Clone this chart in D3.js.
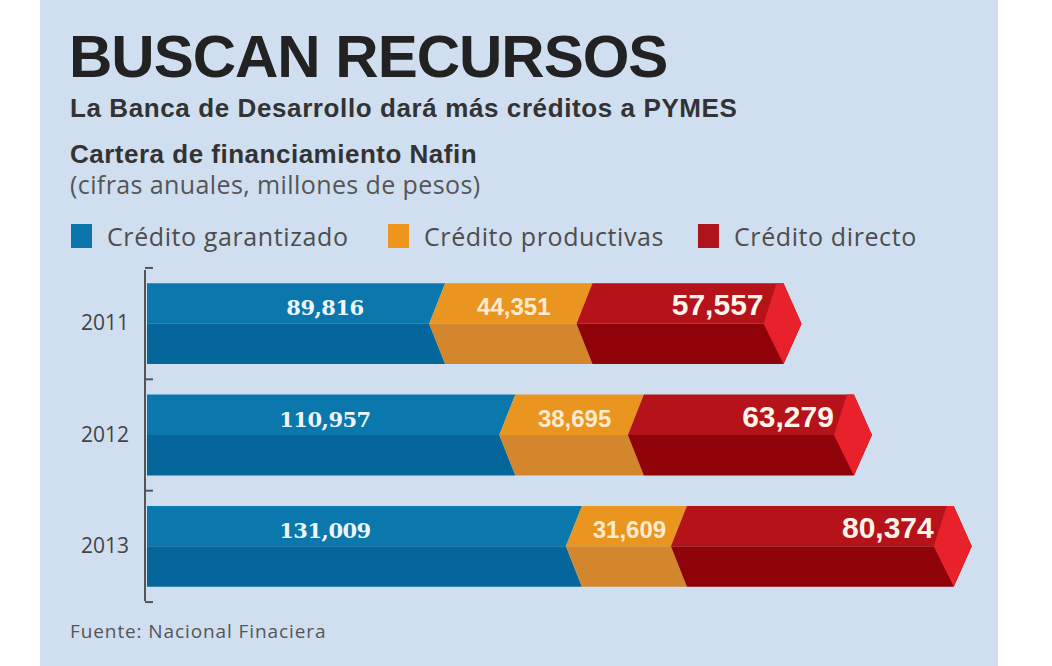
<!DOCTYPE html>
<html>
<head>
<meta charset="utf-8">
<script src="https://cdn.jsdelivr.net/npm/d3@7"></script>
<style>
  html, body { margin: 0; padding: 0; background: #ffffff; }
  svg { display: block; }
</style>
</head>
<body>
<svg id="chart" width="1052" height="666"></svg>
<script>
// ---- data ----
const years = ["2011", "2012", "2013"];
const seriesNames = ["Crédito garantizado", "Crédito productivas", "Crédito directo"];
const garantizado = [89816, 110957, 131009];
const productivas = [44351, 38695, 31609];
const directo = [57557, 63279, 80374];

const title = "BUSCAN RECURSOS";
const subtitle = "La Banca de Desarrollo dará más créditos a PYMES";
const chartTitle = "Cartera de financiamiento Nafin";
const chartUnits = "(cifras anuales, millones de pesos)";
const source = "Fuente: Nacional Finaciera";

// ---- styles ----
const topColors = ["#0a78ad", "#ea951f", "#b5121a"];
const botColors = ["#04669a", "#d3862b", "#900309"];
const legendColors = ["#0b76ab", "#f0961e", "#b0141b"];
const facetColor = "#e8212b";

const svg = d3.select("#chart");

// panel
svg.append("rect").attr("x", 40).attr("y", 0).attr("width", 958).attr("height", 666).attr("fill", "#cfdff0");

// titles
svg.append("text").attr("x", 69).attr("y", 77).text(title)
  .attr("font-family", "Liberation Sans, Arial, sans-serif").attr("font-weight", 700)
  .attr("font-size", 60).attr("letter-spacing", -1).attr("fill", "#222");
svg.append("text").attr("x", 70).attr("y", 117).text(subtitle)
  .attr("font-family", "Liberation Sans, Arial, sans-serif").attr("font-weight", 700)
  .attr("font-size", 26).attr("letter-spacing", 0.6).attr("fill", "#333");
svg.append("text").attr("x", 70).attr("y", 163).text(chartTitle)
  .attr("font-family", "Liberation Sans, Arial, sans-serif").attr("font-weight", 700)
  .attr("font-size", 26).attr("letter-spacing", 0.5).attr("fill", "#333");
svg.append("text").attr("x", 70).attr("y", 194).text(chartUnits)
  .attr("font-family", "Open Sans, sans-serif").attr("font-weight", 400)
  .attr("font-size", 25).attr("letter-spacing", 0.4).attr("fill", "#555");

// legend
const legendX = [71, 388, 698];
const lg = svg.append("g");
seriesNames.forEach((n, i) => {
  lg.append("rect").attr("x", legendX[i]).attr("y", 224).attr("width", 21).attr("height", 24).attr("fill", legendColors[i]);
  lg.append("text").attr("x", legendX[i] + 36).attr("y", 246).text(n)
    .attr("font-family", "Open Sans, sans-serif").attr("font-size", 25).attr("letter-spacing", 0.6).attr("fill", "#4d4d4d");
});

// scales
const x = d3.scaleLinear().domain([0, 250000]).range([147, 977]);
const y = d3.scaleBand().domain(years).range([270, 600]).paddingInner(0.273).paddingOuter(0.118);

// axis
const axisX = 145;
svg.append("line").attr("x1", axisX).attr("x2", axisX).attr("y1", 270).attr("y2", 601)
  .attr("stroke", "#555").attr("stroke-width", 2);
const boundaries = years.map(yr => y(yr) - y.step() * y.paddingInner() / 2)
  .concat([y(years[years.length - 1]) + y.bandwidth() + y.step() * y.paddingInner() / 2]);
svg.selectAll("line.tick").data(boundaries).join("line").attr("class", "tick")
  .attr("x1", axisX).attr("x2", axisX + 8).attr("y1", d => d).attr("y2", d => d)
  .attr("stroke", "#555").attr("stroke-width", 2);

const yAxis = svg.append("g").attr("transform", `translate(${axisX - 16},0)`)
  .call(d3.axisLeft(y).tickSize(0).tickPadding(0));
yAxis.select(".domain").remove();
yAxis.selectAll("text").attr("font-family", "Open Sans, sans-serif").attr("font-size", 21).attr("fill", "#444");

// bars
const series = [garantizado, productivas, directo];
const d = 16, dEnd = 18;
years.forEach((yr, yi) => {
  const t = y(yr), b = y(yr) + y.bandwidth(), m = (t + b) / 2;
  let cum = 0;
  const g = svg.append("g");
  series.forEach((s, si) => {
    const v = s[yi];
    const x0 = x(cum), x1 = x(cum + v);
    const first = si === 0, last = si === series.length - 1;
    const lm = first ? x0 : x0 - d;
    const rm = last ? x1 + dEnd : x1 - d;
    g.append("path").attr("d", `M${x0},${t}L${x1},${t}L${rm},${m}L${lm},${m}Z`).attr("fill", topColors[si]);
    g.append("path").attr("d", `M${lm},${m}L${rm},${m}L${x1},${b}L${x0},${b}Z`).attr("fill", botColors[si]);
    if (last) {
      g.append("path").attr("d", `M${x1 - 7},${t}L${x1},${t}L${x1 + dEnd},${m}L${x1},${b}L${x1 - 20},${m}Z`).attr("fill", facetColor);
    }
    cum += v;
  });
  // labels
  const base = t + 32;
  const fmt = d3.format(",");
  g.append("text").attr("x", x(0) + 178).attr("y", base).attr("text-anchor", "middle")
    .text(fmt(garantizado[yi])).attr("font-family", "DejaVu Serif, serif").attr("font-weight", 700)
    .attr("font-size", 21).attr("letter-spacing", -0.5).attr("fill", "#eef6fb");
  const o0 = x(garantizado[yi]), o1 = x(garantizado[yi] + productivas[yi]);
  g.append("text").attr("x", (o0 + o1) / 2 - 5).attr("y", base).attr("text-anchor", "middle")
    .text(fmt(productivas[yi])).attr("font-family", "Liberation Sans, Arial, sans-serif").attr("font-weight", 700)
    .attr("font-size", 24).attr("fill", "#fdebd0");
  const r1 = x(garantizado[yi] + productivas[yi] + directo[yi]);
  g.append("text").attr("x", r1 - 20).attr("y", base).attr("text-anchor", "end")
    .text(fmt(directo[yi])).attr("font-family", "Liberation Sans, Arial, sans-serif").attr("font-weight", 700)
    .attr("font-size", 30).attr("fill", "#fff4ea");
});

// source
svg.append("text").attr("x", 70).attr("y", 638).text(source)
  .attr("font-family", "Open Sans, sans-serif").attr("font-size", 19).attr("letter-spacing", 0.9).attr("fill", "#555");
</script>
</body>
</html>
